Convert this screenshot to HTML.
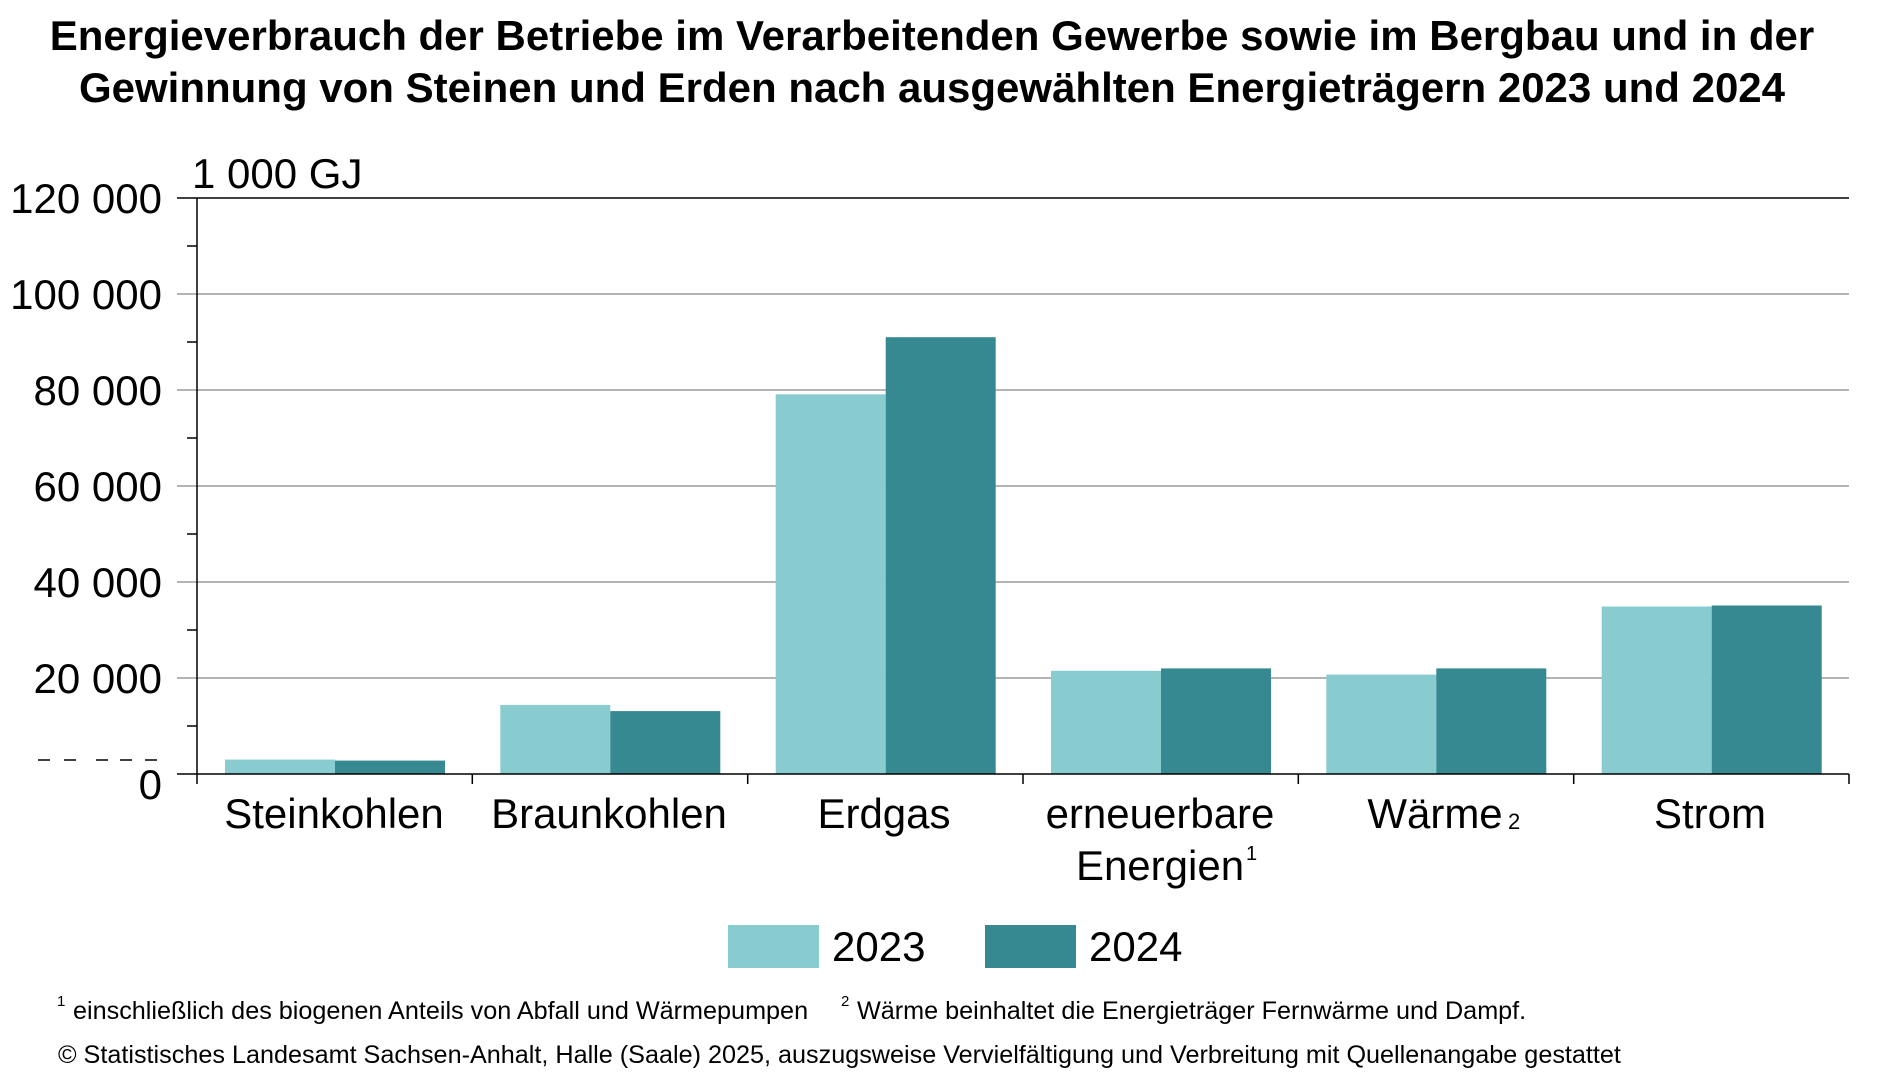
<!DOCTYPE html>
<html><head><meta charset="utf-8"><style>
body{margin:0;background:#fff;}
svg{display:block;font-family:"Liberation Sans",sans-serif;}
</style></head><body>
<svg width="1902" height="1087" viewBox="0 0 1902 1087" xmlns="http://www.w3.org/2000/svg">
<text x="932" y="50" text-anchor="middle" font-size="42" font-weight="bold">Energieverbrauch der Betriebe im Verarbeitenden Gewerbe sowie im Bergbau und in der</text>
<text x="932" y="102" text-anchor="middle" font-size="42" font-weight="bold">Gewinnung von Steinen und Erden nach ausgewählten Energieträgern 2023 und 2024</text>
<text x="192" y="188" font-size="42">1 000 GJ</text>
<g stroke="#888" stroke-width="1.3">
<line x1="177" y1="678" x2="1849" y2="678"/>
<line x1="177" y1="582" x2="1849" y2="582"/>
<line x1="177" y1="486" x2="1849" y2="486"/>
<line x1="177" y1="390" x2="1849" y2="390"/>
<line x1="177" y1="294" x2="1849" y2="294"/>
</g>
<line x1="177" y1="198" x2="1849" y2="198" stroke="#000" stroke-width="1.5"/>
<g stroke="#000" stroke-width="1.5">
<line x1="187" y1="246" x2="197" y2="246"/><line x1="187" y1="342" x2="197" y2="342"/>
<line x1="187" y1="438" x2="197" y2="438"/><line x1="187" y1="534" x2="197" y2="534"/>
<line x1="187" y1="630" x2="197" y2="630"/><line x1="187" y1="726" x2="197" y2="726"/>
</g>
<g>
<rect x="225" y="759.6" width="110" height="14.4" fill="#88CCCF"/><rect x="335" y="760.6" width="110" height="13.4" fill="#368891"/>
<rect x="500.3" y="704.9" width="110" height="69.1" fill="#88CCCF"/><rect x="610.3" y="711.1" width="110" height="62.9" fill="#368891"/>
<rect x="775.7" y="394.3" width="110" height="379.7" fill="#88CCCF"/><rect x="885.7" y="337.2" width="110" height="436.8" fill="#368891"/>
<rect x="1051" y="670.8" width="110" height="103.2" fill="#88CCCF"/><rect x="1161" y="668.4" width="110" height="105.6" fill="#368891"/>
<rect x="1326.3" y="674.6" width="110" height="99.4" fill="#88CCCF"/><rect x="1436.3" y="668.4" width="110" height="105.6" fill="#368891"/>
<rect x="1601.7" y="606.5" width="110" height="167.5" fill="#88CCCF"/><rect x="1711.7" y="605.5" width="110" height="168.5" fill="#368891"/>
</g>
<line x1="197" y1="198" x2="197" y2="784" stroke="#000" stroke-width="1.5"/>
<line x1="177" y1="774" x2="1849" y2="774" stroke="#000" stroke-width="1.5"/>
<g stroke="#000" stroke-width="1.5">
<line x1="472.3" y1="774" x2="472.3" y2="784"/><line x1="747.7" y1="774" x2="747.7" y2="784"/>
<line x1="1023" y1="774" x2="1023" y2="784"/><line x1="1298.3" y1="774" x2="1298.3" y2="784"/>
<line x1="1573.7" y1="774" x2="1573.7" y2="784"/><line x1="1849" y1="774" x2="1849" y2="784"/>
</g>
<g font-size="42" text-anchor="end">
<text x="162" y="213">120 000</text><text x="162" y="309">100 000</text>
<text x="162" y="405">80 000</text><text x="162" y="501">60 000</text>
<text x="162" y="597">40 000</text><text x="162" y="693">20 000</text>
<text x="162" y="799">0</text>
</g>
<g stroke="#000" stroke-width="1.5">
<line x1="38" y1="760" x2="50" y2="760"/><line x1="64" y1="760" x2="76" y2="760"/>
<line x1="96" y1="760" x2="108" y2="760"/><line x1="120" y1="760" x2="132" y2="760"/><line x1="145" y1="760" x2="157" y2="760"/>
</g>
<g font-size="42" text-anchor="middle">
<text x="334" y="828">Steinkohlen</text>
<text x="609" y="828">Braunkohlen</text>
<text x="884" y="828">Erdgas</text>
<text x="1160" y="828">erneuerbare</text>
<text x="1160" y="880">Energien</text>
<text x="1435" y="828">Wärme</text>
<text x="1710" y="828">Strom</text>
</g>
<text x="1246" y="860" font-size="20">1</text>
<text x="1508" y="829" font-size="22">2</text>
<rect x="728" y="925" width="91" height="43" fill="#88CCCF"/>
<text x="832" y="961" font-size="42">2023</text>
<rect x="985" y="925" width="91" height="43" fill="#368891"/>
<text x="1089" y="961" font-size="42">2024</text>
<text x="57" y="1006" font-size="15">1</text>
<text x="73" y="1019" font-size="25.2">einschließlich des biogenen Anteils von Abfall und Wärmepumpen</text>
<text x="841" y="1006" font-size="15">2</text>
<text x="857" y="1019" font-size="25.2">Wärme beinhaltet die Energieträger Fernwärme und Dampf.</text>
<text x="58" y="1063" font-size="25.2">© Statistisches Landesamt Sachsen-Anhalt, Halle (Saale) 2025, auszugsweise Vervielfältigung und Verbreitung mit Quellenangabe gestattet</text>
</svg>
</body></html>
